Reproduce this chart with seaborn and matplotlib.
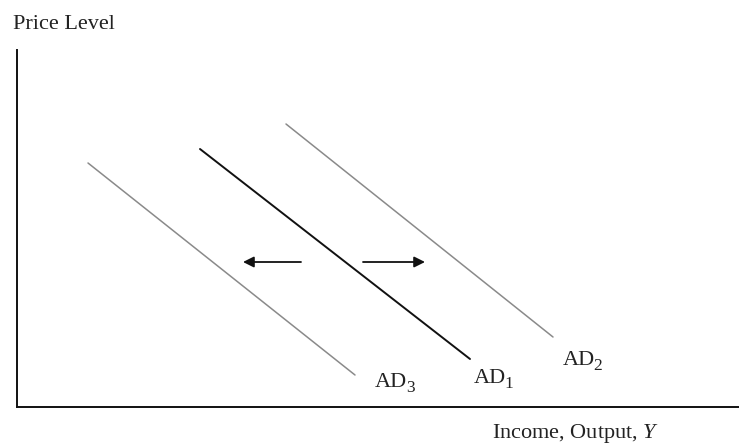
import numpy as np
import pandas as pd
import matplotlib.pyplot as plt
import seaborn as sns

# ---- data (units: pixel offsets from the axes origin) ----
curves = ["AD3", "AD1", "AD2"]
x_start = [71, 183, 269]
x_end = [338, 453, 536]
y_start = [244, 258, 283]
y_end = [32, 48, 70]
label_main = ["AD", "AD", "AD"]
label_sub = ["3", "1", "2"]
label_x = [358, 457, 546]
label_y = [20, 24, 42]

arrow_tail_x = [284, 346]
arrow_head_x = [226, 408]
arrow_y = [145, 145]

sns.set_style("white")
plt.rcParams["font.family"] = ["Liberation Serif", "DejaVu Serif"]
plt.rcParams["mathtext.fontset"] = "custom"
plt.rcParams["mathtext.rm"] = "Liberation Serif"
plt.rcParams["mathtext.it"] = "Liberation Serif:italic"

df = pd.DataFrame({
    "curve": np.repeat(curves, 2),
    "x": np.ravel(np.column_stack([x_start, x_end])),
    "y": np.ravel(np.column_stack([y_start, y_end])),
})

fig = plt.figure(figsize=(7.39, 4.44), dpi=100)
ax = fig.add_axes([17 / 739, 37 / 444, 722 / 739, 357 / 444])

colors = {"AD3": "#8a8a8a", "AD1": "#111111", "AD2": "#8a8a8a"}
widths = {"AD3": 1.1, "AD1": 1.4, "AD2": 1.1}
for c in curves:
    sns.lineplot(data=df[df.curve == c], x="x", y="y", color=colors[c],
                 linewidth=widths[c], ax=ax, legend=False)

for main, sub, lx, ly in zip(label_main, label_sub, label_x, label_y):
    t = ax.text(lx, ly, main, fontsize=16, ha="left", va="baseline", color="#222222")
    ax.annotate(sub, xy=(1, 0), xycoords=t, xytext=(-1, -3),
                textcoords="offset points", fontsize=12.5,
                ha="left", va="bottom", color="#222222")

for tx, hx, ay in zip(arrow_tail_x, arrow_head_x, arrow_y):
    ax.annotate("", xy=(hx, ay), xytext=(tx, ay),
                arrowprops=dict(arrowstyle="-|>", color="#111111", lw=1.3,
                                mutation_scale=16, shrinkA=0, shrinkB=0))

ax.set_xlim(0, 722)
ax.set_ylim(0, 357)
ax.set_xticks([])
ax.set_yticks([])
ax.set_xlabel("")
ax.set_ylabel("")
sns.despine(ax=ax)
for s in ["left", "bottom"]:
    ax.spines[s].set_color("#111111")
    ax.spines[s].set_linewidth(1.4)

fig.text(13 / 739, 1 - 29 / 444, "Price Level", fontsize=16,
         ha="left", va="baseline", color="#222222")
fig.text(492 / 739, 1 - 438 / 444, "Income, Output, $Y$", fontsize=16,
         ha="left", va="baseline", color="#222222")

fig.savefig("out.png", dpi=100)
